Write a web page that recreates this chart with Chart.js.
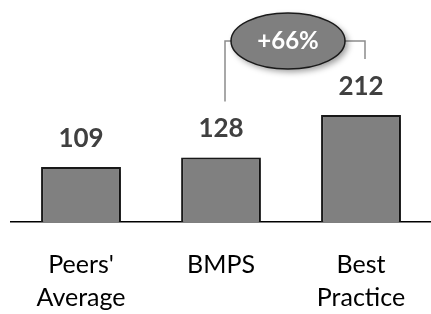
<!DOCTYPE html>
<html>
<head>
<meta charset="utf-8">
<script src="https://cdn.jsdelivr.net/npm/chart.js@4/dist/chart.umd.min.js"></script>
<style>
  html, body { margin: 0; padding: 0; background: #fff; }
  #wrap { width: 431px; height: 314px; }
</style>
</head>
<body>
<div id="wrap"><canvas id="myChart"></canvas></div>
<script>
// dados do grafico
var categorias = [["Peers'", 'Average'], 'BMPS', ['Best', 'Practice']];
var valores = [109, 128, 212];
// barras comparadas no balao
var comparar = [1, 2];

var fonte = 'Lato, "Liberation Sans", sans-serif';

// sombra nas barras
var sombra = {
  id: 'sombra',
  beforeDatasetsDraw: function (chart) {
    var c = chart.ctx;
    c.save();
    c.shadowColor = 'rgba(0,0,0,0.35)';
    c.shadowBlur = 6;
    c.shadowOffsetX = 4;
    c.shadowOffsetY = 2;
  },
  afterDatasetsDraw: function (chart) {
    chart.ctx.restore();
  }
};

// rotulos de valor + colchete com o balao
var rotulos = {
  id: 'rotulos',
  afterDraw: function (chart) {
    var c = chart.ctx;
    var barras = chart.getDatasetMeta(0).data;
    c.save();
    c.font = 'bold 26px ' + fonte;
    c.fillStyle = '#404040';
    c.textAlign = 'center';
    c.textBaseline = 'alphabetic';
    barras.forEach(function (b, i) {
      c.fillText(valores[i], b.x, b.y - 20);
    });

    var a = barras[comparar[0]], d = barras[comparar[1]];
    var x1 = a.x + 4, x2 = d.x + 4, yTop = 41;
    c.strokeStyle = '#8c8c8c';
    c.lineWidth = 1.5;
    c.beginPath();
    c.moveTo(x1, a.y - 56);
    c.lineTo(x1, yTop);
    c.lineTo(x2, yTop);
    c.lineTo(x2, d.y - 56);
    c.stroke();

    var cx = (x1 + x2) / 2 - 7, cy = yTop;
    c.shadowColor = 'rgba(0,0,0,0.4)';
    c.shadowBlur = 6;
    c.shadowOffsetX = 3;
    c.shadowOffsetY = 3;
    c.beginPath();
    c.ellipse(cx, cy, 57, 28, 0, 0, Math.PI * 2);
    c.fillStyle = '#7f7f7f';
    c.fill();
    c.shadowColor = 'transparent';
    c.strokeStyle = '#1a1a1a';
    c.lineWidth = 1.5;
    c.stroke();

    var pct = Math.round((valores[comparar[1]] / valores[comparar[0]] - 1) * 100);
    c.fillStyle = '#ffffff';
    c.font = 'bold 24px ' + fonte;
    c.textBaseline = 'middle';
    c.fillText('+' + pct + '%', cx, cy);
    c.restore();
  }
};

var ctx = document.getElementById('myChart').getContext('2d');
var myChart = new Chart(ctx, {
  type: 'bar',
  data: {
    labels: categorias,
    datasets: [{
      data: valores,
      backgroundColor: '#808080',
      borderColor: '#1a1a1a',
      borderWidth: 2,
      borderSkipped: 'bottom',
      categoryPercentage: 1,
      barPercentage: 0.57
    }]
  },
  options: {
    responsive: true,
    maintainAspectRatio: false,
    animation: false,
    layout: { padding: { left: 11, right: 0, top: 0, bottom: 0 } },
    plugins: { legend: { display: false }, tooltip: { enabled: false } },
    scales: {
      x: {
        grid: { display: false },
        border: { display: true, color: '#000', width: 1.5 },
        afterFit: function (s) { s.height = 92; },
        ticks: {
          color: '#000',
          padding: 18,
          font: { family: fonte, size: 25, lineHeight: '33px' },
          maxRotation: 0
        }
      },
      y: {
        display: false,
        min: 0,
        max: 440
      }
    }
  },
  plugins: [sombra, rotulos]
});
</script>
</body>
</html>
